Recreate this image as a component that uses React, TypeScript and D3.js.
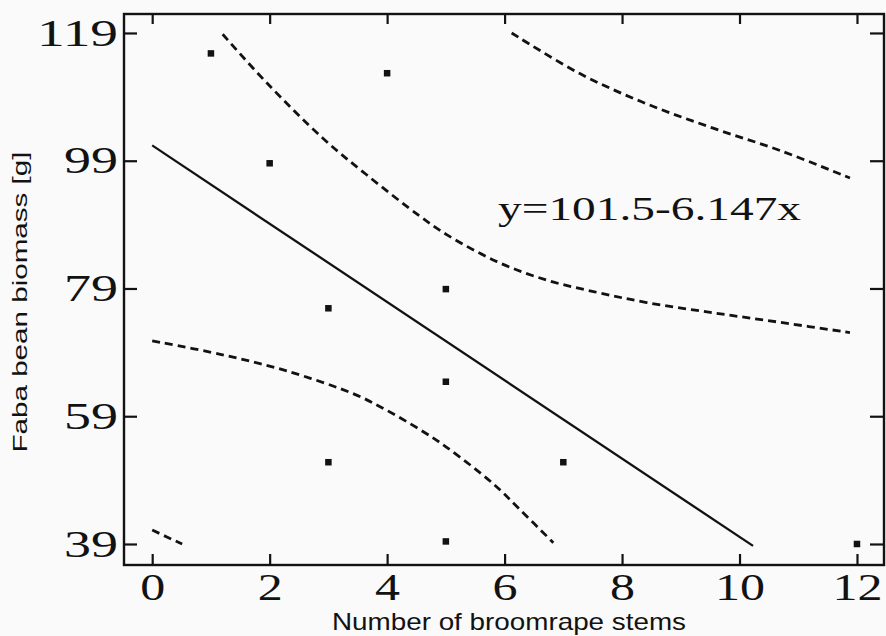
import * as d3 from "d3";
import { useEffect, useRef } from "react";

const stems = [1, 4, 2, 3, 5, 5, 3, 5, 7, 12];
const biomass = [115.8, 112.7, 98.6, 75.9, 78.9, 64.4, 51.8, 39.4, 51.8, 39.0];

// fitted line y = 101.5 - 6.147x, end points as drawn
const fitX = [0, 10.23];
const fitY = [101.4, 38.7];

// inner band (upper / lower)
const upperConfX = [1.2, 1.95, 2.92, 3.65, 4.56, 5.02, 5.87, 6.72, 7.57, 8.42, 9.55, 10.69, 11.88];
const upperConfY = [118.8, 111.2, 102.4, 96.8, 90.3, 87.4, 83.2, 80.3, 78.4, 76.8, 75.2, 73.7, 72.1];
const lowerConfX = [0, 1.16, 2.29, 3.43, 3.88, 4.56, 5.02, 5.81, 6.26, 6.83];
const lowerConfY = [70.8, 68.7, 66.1, 62.5, 60.5, 56.9, 54.1, 48.4, 44.4, 39.2];

// outer band pieces
const upperPredX = [6.12, 7.29, 8.42, 9.55, 10.69, 11.88];
const upperPredY = [119.0, 112.6, 107.9, 104.1, 100.6, 96.3];
const lowerPredX = [0, 0.25, 0.51];
const lowerPredY = [41.2, 40.1, 39.0];

const xTicks = [0, 2, 4, 6, 8, 10, 12];
const yTicks = [39, 59, 79, 99, 119];

const W = 886;
const H = 636;

const App = () => {
  const svgRef = useRef<SVGSVGElement>(null);

  useEffect(() => {
    const svg = d3.select(svgRef.current);
    svg.selectAll("*").remove();

    const frame = { left: 124, right: 884, top: 14, bottom: 565 };
    const x = d3.scaleLinear().domain([-0.48, 12.46]).range([frame.left, frame.right]);
    const y = d3.scaleLinear().domain([35.71, 121.97]).range([frame.bottom, frame.top]);

    svg.append("rect").attr("width", W).attr("height", H).attr("fill", "#fafafa");

    const ink = "#121212";
    const tickFont = "'Liberation Serif', 'Times New Roman', serif";

    //оси
    const styleAxis = (g: any) => {
      g.select(".domain").remove();
      g.selectAll("line").attr("stroke", ink).attr("stroke-width", 2.2);
    };

    svg.append("g")
      .attr("transform", `translate(${frame.left},0)`)
      .call(d3.axisLeft(y).tickValues(yTicks).tickSize(-13).tickPadding(6))
      .call(styleAxis)
      .selectAll("text")
      .style("font-family", tickFont)
      .style("font-size", "38px")
      .attr("fill", ink)
      .attr("textLength", (d: any) => String(d).length * 27)
      .attr("lengthAdjust", "spacingAndGlyphs");

    svg.append("g")
      .attr("transform", `translate(${frame.right},0)`)
      .call(d3.axisRight(y).tickValues(yTicks).tickSize(-14).tickFormat(() => ""))
      .call(styleAxis);

    svg.append("g")
      .attr("transform", `translate(0,${frame.bottom})`)
      .call(d3.axisBottom(x).tickValues(xTicks).tickSize(-11).tickPadding(9))
      .call(styleAxis)
      .selectAll("text")
      .style("font-family", tickFont)
      .style("font-size", "37px")
      .attr("fill", ink)
      .attr("textLength", (d: any) => String(d).length * 25)
      .attr("lengthAdjust", "spacingAndGlyphs");

    svg.append("g")
      .attr("transform", `translate(0,${frame.top})`)
      .call(d3.axisTop(x).tickValues(xTicks).tickSize(-10).tickFormat(() => ""))
      .call(styleAxis);

    //рамка
    svg.append("rect")
      .attr("x", frame.left)
      .attr("y", frame.top)
      .attr("width", frame.right - frame.left)
      .attr("height", frame.bottom - frame.top)
      .attr("fill", "none")
      .attr("stroke", ink)
      .attr("stroke-width", 2.4);

    //линии
    const line = d3.line<number>()
      .x((d) => x(d))
      .curve(d3.curveCatmullRom.alpha(0.5));

    const drawCurve = (xs: number[], ys: number[], dashed: boolean) => {
      svg.append("path")
        .attr("d", line.y((_, i) => y(ys[i]))(xs))
        .attr("fill", "none")
        .attr("stroke", ink)
        .attr("stroke-width", dashed ? 2.8 : 2.3)
        .attr("stroke-dasharray", dashed ? "8 5" : null);
    };

    drawCurve(fitX, fitY, false);
    drawCurve(upperConfX, upperConfY, true);
    drawCurve(lowerConfX, lowerConfY, true);
    drawCurve(upperPredX, upperPredY, true);
    drawCurve(lowerPredX, lowerPredY, true);

    //точки
    svg.selectAll(".pt")
      .data(stems)
      .enter()
      .append("rect")
      .attr("class", "pt")
      .attr("x", (d) => x(d) - 3.25)
      .attr("y", (_, i) => y(biomass[i]) - 3.25)
      .attr("width", 6.5)
      .attr("height", 6.5)
      .attr("fill", ink);

    //уравнение
    svg.append("text")
      .attr("x", 498)
      .attr("y", 220)
      .attr("textLength", 303)
      .attr("lengthAdjust", "spacingAndGlyphs")
      .style("font-family", tickFont)
      .style("font-size", "34px")
      .attr("fill", ink)
      .text("y=101.5-6.147x");

    //подписи осей
    svg.append("text")
      .attr("x", 509)
      .attr("y", 630)
      .attr("text-anchor", "middle")
      .attr("textLength", 354)
      .attr("lengthAdjust", "spacingAndGlyphs")
      .style("font-family", "'Liberation Sans', Arial, sans-serif")
      .style("font-size", "24px")
      .attr("fill", ink)
      .text("Number of broomrape stems");

    svg.append("text")
      .attr("transform", "translate(27,302) rotate(-90)")
      .attr("text-anchor", "middle")
      .attr("textLength", 301)
      .attr("lengthAdjust", "spacingAndGlyphs")
      .style("font-family", "'Liberation Sans', Arial, sans-serif")
      .style("font-size", "20px")
      .attr("fill", ink)
      .text("Faba bean biomass [g]");
  }, []);

  return (
    <svg
      ref={svgRef}
      width={W}
      height={H}
      style={{ position: "absolute", left: 0, top: 0 }}
    />
  );
};

export default App;
